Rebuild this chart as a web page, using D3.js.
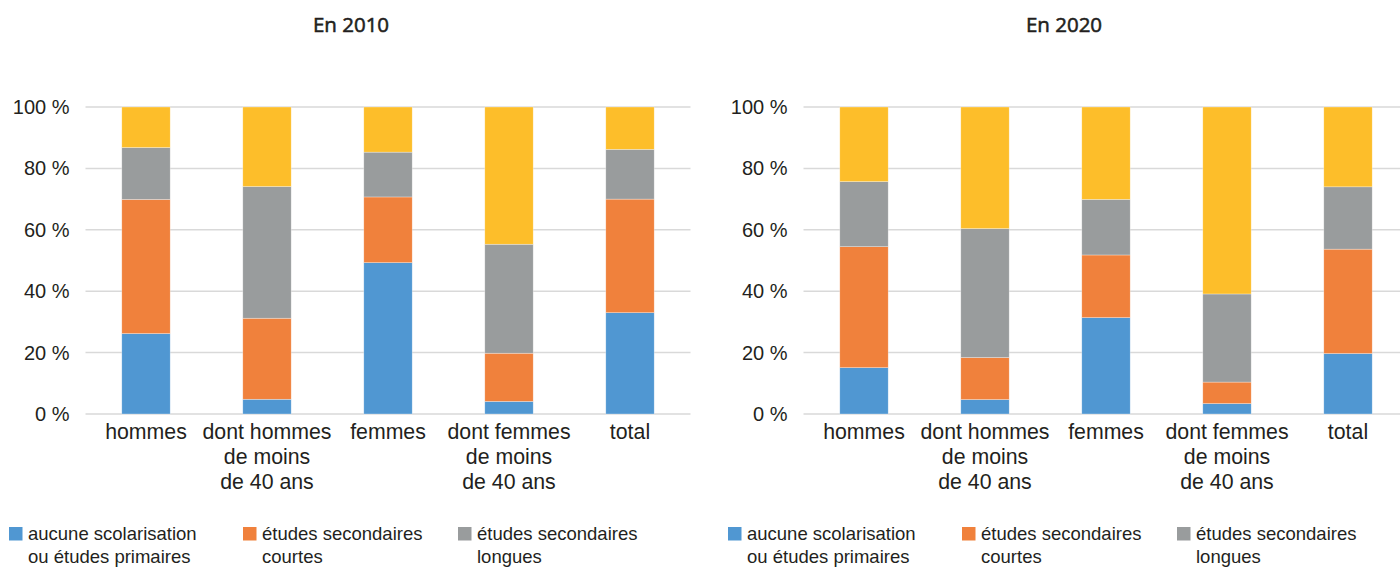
<!DOCTYPE html>
<html>
<head>
<meta charset="utf-8">
<script src="https://cdn.jsdelivr.net/npm/d3@7"></script>
<style>
  body { margin: 0; background: #fff; }
  svg { display: block; }
</style>
</head>
<body>
<div id="chart"></div>
<script>
// Categories (multi-line labels)
const categories = ['hommes', 'dont hommes de moins de 40 ans', 'femmes', 'dont femmes de moins de 40 ans', 'total'];
const categoryLines = [
    ['hommes'],
    ['dont hommes', 'de moins', 'de 40 ans'],
    ['femmes'],
    ['dont femmes', 'de moins', 'de 40 ans'],
    ['total']
];

const seriesNames = [
    'aucune scolarisation ou études primaires',
    'études secondaires courtes',
    'études secondaires longues',
    'études supérieures'
];
const legendLines = [
    ['aucune scolarisation', 'ou études primaires'],
    ['études secondaires', 'courtes'],
    ['études secondaires', 'longues']
];
const seriesColors = ['#5097D2', '#F0813C', '#999C9D', '#FDBE2A'];

// Shares in %, by category
const primaire2010 = [26.2, 4.8, 49.3, 4.1, 33.0];
const courtes2010 = [43.7, 26.4, 21.4, 15.7, 37.0];
const longues2010 = [16.9, 42.9, 14.6, 35.5, 16.2];
const superieures2010 = [13.2, 25.9, 14.7, 44.7, 13.8];

const primaire2020 = [15.1, 4.7, 31.4, 3.4, 19.7];
const courtes2020 = [39.4, 13.7, 20.4, 7.0, 34.0];
const longues2020 = [21.2, 42.0, 18.1, 28.7, 20.3];
const superieures2020 = [24.3, 39.6, 30.1, 60.9, 26.0];

const yTicks = [0, 20, 40, 60, 80, 100];

const panels = [
    { title: 'En 2010', series: [primaire2010, courtes2010, longues2010, superieures2010], x0: 85.5, titleX: 351, legendX: 9 },
    { title: 'En 2020', series: [primaire2020, courtes2020, longues2020, superieures2020], x0: 803.5, titleX: 1064, legendX: 728 }
];

const width = 1400, height = 567;
const textColor = '#231F20';

const svg = d3.select('#chart')
    .append('svg')
    .attr('width', width)
    .attr('height', height)
    .style('font-family', '"Liberation Sans", Arial, sans-serif');

const y = d3.scaleLinear().domain([0, 100]).range([414, 107]);
const legendOffsets = [0, 234, 449];

panels.forEach(p => {
    const g = svg.append('g');

    const x = d3.scaleBand()
        .domain(categories)
        .range([p.x0, p.x0 + 605])
        .padding(0);
    const barW = x.bandwidth() * 0.4;

    // title (regular weight + thin outline ~ semibold)
    g.append('text')
        .attr('x', p.titleX)
        .attr('y', 32)
        .attr('text-anchor', 'middle')
        .style('font-family', '"Open Sans", sans-serif')
        .style('font-size', '20.5px')
        .attr('fill', textColor)
        .attr('stroke', textColor)
        .attr('stroke-width', 0.55)
        .text(p.title);

    // gridlines
    g.selectAll('line.grid')
        .data(yTicks)
        .join('line')
        .attr('class', 'grid')
        .attr('x1', p.x0)
        .attr('x2', p.x0 + 605)
        .attr('y1', d => y(d))
        .attr('y2', d => y(d))
        .attr('stroke', '#D9D9D9')
        .attr('stroke-width', 1.5);

    // y tick labels
    g.selectAll('text.ytick')
        .data(yTicks)
        .join('text')
        .attr('class', 'ytick')
        .attr('x', p.x0 - 16)
        .attr('y', d => y(d))
        .attr('dy', '0.35em')
        .attr('text-anchor', 'end')
        .style('font-size', '20px')
        .attr('fill', textColor)
        .text(d => `${d} %`);

    // stacked bars
    const rows = categories.map((c, i) => {
        const r = { cat: c };
        seriesNames.forEach((s, k) => r[s] = p.series[k][i]);
        return r;
    });
    const stacked = d3.stack().keys(seriesNames)(rows);

    g.selectAll('g.layer')
        .data(stacked)
        .join('g')
        .attr('class', 'layer')
        .attr('fill', (d, i) => seriesColors[i])
        .selectAll('rect')
        .data(d => d)
        .join('rect')
        .attr('x', d => x(d.data.cat) + (x.bandwidth() - barW) / 2)
        .attr('y', d => y(d[1]))
        .attr('width', barW)
        .attr('height', d => y(d[0]) - y(d[1]))
        .attr('stroke', '#ffffff')
        .attr('stroke-opacity', 0.5)
        .attr('stroke-width', 0.6);

    // category labels
    const cl = g.selectAll('text.cat')
        .data(categories)
        .join('text')
        .attr('class', 'cat')
        .attr('x', d => x(d) + x.bandwidth() / 2)
        .attr('y', 439)
        .attr('text-anchor', 'middle')
        .style('font-size', '21.3px')
        .attr('fill', textColor);
    cl.selectAll('tspan')
        .data((d, i) => categoryLines[i])
        .join('tspan')
        .attr('x', function () { return d3.select(this.parentNode).attr('x'); })
        .attr('dy', (d, i) => i === 0 ? 0 : 25)
        .text(d => d);

    // legend
    const lg = g.selectAll('g.legend')
        .data(legendLines)
        .join('g')
        .attr('class', 'legend')
        .attr('transform', (d, i) => `translate(${p.legendX + legendOffsets[i]},527)`);
    lg.append('rect')
        .attr('width', 13.5)
        .attr('height', 13.5)
        .attr('fill', (d, i) => seriesColors[i]);
    lg.append('text')
        .attr('x', 19)
        .attr('y', 13)
        .style('font-size', '18.5px')
        .attr('fill', textColor)
        .selectAll('tspan')
        .data(d => d)
        .join('tspan')
        .attr('x', 19)
        .attr('dy', (d, i) => i === 0 ? 0 : 23)
        .text(d => d);
});
</script>
</body>
</html>
